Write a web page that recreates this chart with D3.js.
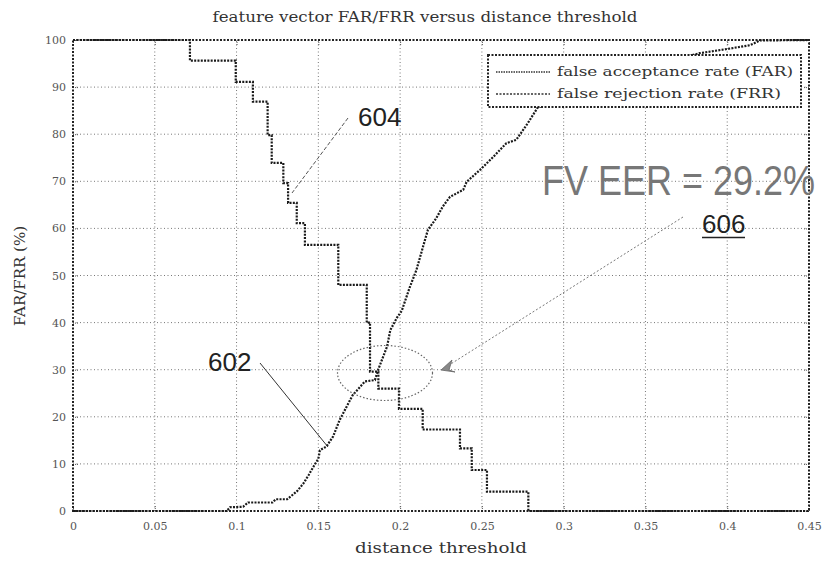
<!DOCTYPE html>
<html><head><meta charset="utf-8">
<script src="https://cdn.jsdelivr.net/npm/d3@7"></script>
<style>body{margin:0;background:#fff}svg{display:block}</style>
</head><body>
<script>
// ---- data ----
const xTicks = [0, 0.05, 0.1, 0.15, 0.2, 0.25, 0.3, 0.35, 0.4, 0.45];
const xTickLabels = ["0", "0.05", "0.1", "0.15", "0.2", "0.25", "0.3", "0.35", "0.4", "0.45"];
const yTicks = [0, 10, 20, 30, 40, 50, 60, 70, 80, 90, 100];
const yTickLabels = ["0", "10", "20", "30", "40", "50", "60", "70", "80", "90", "100"];
const farX = [0, 0.094, 0.096, 0.104, 0.107, 0.122, 0.124, 0.131, 0.137, 0.141, 0.144, 0.147, 0.150, 0.151, 0.155, 0.159, 0.163, 0.171, 0.1785, 0.1846, 0.1867, 0.190, 0.192, 0.194, 0.198, 0.201, 0.206, 0.210, 0.214, 0.217, 0.222, 0.226, 0.2305, 0.2386, 0.2407, 0.2488, 0.257, 0.265, 0.271, 0.278, 0.284, 0.30, 0.33, 0.36, 0.383, 0.402, 0.414, 0.420, 0.45];
const farY = [0, 0, 0.8, 0.9, 1.8, 1.8, 2.5, 2.5, 4.2, 5.9, 7.6, 9.4, 11.1, 12.9, 13.7, 15.8, 19.3, 24.6, 27.5, 27.8, 30.1, 33.1, 34.9, 38.4, 41, 42.5, 47.6, 51.2, 56.1, 59.7, 62.1, 64.6, 66.7, 68.2, 69.9, 72.4, 75.2, 78.1, 78.8, 82.3, 85.6, 88, 92, 95, 97.2, 98.2, 98.9, 99.9, 100];
const frrX = [0, 0.0715, 0.0715, 0.0995, 0.0995, 0.110, 0.110, 0.119, 0.119, 0.1215, 0.1215, 0.1286, 0.1286, 0.1315, 0.1315, 0.1368, 0.1368, 0.1418, 0.1418, 0.1622, 0.1622, 0.1796, 0.1796, 0.1816, 0.1816, 0.1867, 0.1867, 0.1993, 0.1993, 0.2138, 0.2138, 0.2366, 0.2366, 0.2438, 0.2438, 0.2531, 0.2531, 0.2784, 0.2784, 0.45];
const frrY = [100, 100, 95.6, 95.6, 91.1, 91.1, 86.9, 86.9, 79.8, 79.8, 73.9, 73.9, 69.6, 69.6, 65.4, 65.4, 61.1, 61.1, 56.5, 56.5, 48.0, 48.0, 40, 40, 29.6, 29.6, 26.0, 26.0, 21.7, 21.7, 17.3, 17.3, 13.3, 13.3, 8.7, 8.7, 4.1, 4.1, 0, 0];
const seriesNames = ["false acceptance rate (FAR)", "false rejection rate (FRR)"];

// ---- drawing ----
const W = 825, H = 562;
const svg = d3.select("body").append("svg").attr("width", W).attr("height", H);
const x = d3.scaleLinear().domain([0, 0.45]).range([73, 809]);
const y = d3.scaleLinear().domain([0, 100]).range([511, 40]);
const serif = "'DejaVu Serif', serif";

// grid
const grid = svg.append("g").attr("stroke", "#777").attr("stroke-width", 1).attr("stroke-dasharray", "1,2.5");
grid.selectAll(".gx").data(xTicks.slice(1, -1)).join("line")
  .attr("x1", d => x(d)).attr("x2", d => x(d)).attr("y1", y(0)).attr("y2", y(100));
grid.selectAll(".gy").data(yTicks.slice(1, -1)).join("line")
  .attr("x1", x(0)).attr("x2", x(0.45)).attr("y1", d => y(d)).attr("y2", d => y(d));

// axes (ticks inward) via d3 axes
const axB = svg.append("g").attr("transform", `translate(0,${y(0)})`)
  .call(d3.axisBottom(x).tickValues(xTicks).tickSize(-5).tickPadding(11).tickFormat((d, i) => xTickLabels[i]));
const axL = svg.append("g").attr("transform", `translate(${x(0)},0)`)
  .call(d3.axisLeft(y).tickValues(yTicks).tickSize(-5).tickPadding(7).tickFormat((d, i) => yTickLabels[i]));
const axT = svg.append("g").attr("transform", `translate(0,${y(100)})`)
  .call(d3.axisTop(x).tickValues(xTicks).tickSize(-5).tickFormat(""));
const axR = svg.append("g").attr("transform", `translate(${x(0.45)},0)`)
  .call(d3.axisRight(y).tickValues(yTicks).tickSize(-5).tickFormat(""));
[axB, axL, axT, axR].forEach(a => {
  a.select(".domain").remove();
  a.selectAll(".tick line").attr("stroke", "#555").attr("stroke-dasharray", "1,1");
  a.selectAll(".tick text").attr("fill", "#555").style("font-family", serif).style("font-size", "11px");
});

// frame
svg.append("rect").attr("x", x(0)).attr("y", y(100)).attr("width", x(0.45) - x(0)).attr("height", y(0) - y(100))
  .attr("fill", "none").attr("stroke", "#222").attr("stroke-width", 2).attr("stroke-dasharray", "2,1.5");

// curves
const line = d3.line().x(d => x(d[0])).y(d => y(d[1]));
const curveStyle = s => s.attr("fill", "none").attr("stroke", "#1a1a1a").attr("stroke-width", 2.2).attr("stroke-dasharray", "2,1.3");
svg.append("path").datum(farX.map((v, i) => [v, farY[i]])).attr("d", line).call(curveStyle);
svg.append("path").datum(frrX.map((v, i) => [v, frrY[i]])).attr("d", line).call(curveStyle);

// legend
const lg = svg.append("g");
lg.append("rect").attr("x", 488).attr("y", 55).attr("width", 313).attr("height", 52)
  .attr("fill", "#fff").attr("stroke", "#222").attr("stroke-width", 2).attr("stroke-dasharray", "2,1.5");
seriesNames.forEach((n, i) => {
  const yy = 72 + i * 22;
  lg.append("line").attr("x1", 496).attr("x2", 550).attr("y1", yy).attr("y2", yy)
    .attr("stroke", "#333").attr("stroke-width", 1.6).attr("stroke-dasharray", i === 0 ? "1.5,1" : "2,1.5");
  lg.append("text").attr("x", 557).attr("y", yy + 4).text(n)
    .attr("fill", "#333").style("font-family", serif).style("font-size", "13px")
    .attr("textLength", i === 0 ? 236 : 224).attr("lengthAdjust", "spacingAndGlyphs");
});

// titles
svg.append("text").attr("x", 425).attr("y", 22).attr("text-anchor", "middle")
  .text("feature vector FAR/FRR versus distance threshold")
  .attr("fill", "#333").style("font-family", serif).style("font-size", "14px")
  .attr("textLength", 425).attr("lengthAdjust", "spacingAndGlyphs");
svg.append("text").attr("x", 441).attr("y", 553).attr("text-anchor", "middle")
  .text("distance threshold").attr("fill", "#333").style("font-family", serif).style("font-size", "15px")
  .attr("textLength", 172).attr("lengthAdjust", "spacingAndGlyphs");
svg.append("text").attr("transform", "translate(25,276) rotate(-90)").attr("text-anchor", "middle")
  .text("FAR/FRR (%)").attr("fill", "#333").style("font-family", serif).style("font-size", "15px")
  .attr("textLength", 100).attr("lengthAdjust", "spacingAndGlyphs");

// annotations
const sans = "'Liberation Sans', Arial, sans-serif";
svg.append("line").attr("x1", 348).attr("y1", 118).attr("x2", 292).attr("y2", 193)
  .attr("stroke", "#555").attr("stroke-width", 1).attr("stroke-dasharray", "4,2");
svg.append("text").attr("x", 358).attr("y", 126).text("604").attr("fill", "#222")
  .style("font-family", sans).style("font-size", "26px");
svg.append("line").attr("x1", 260).attr("y1", 363).attr("x2", 328).attr("y2", 447)
  .attr("stroke", "#333").attr("stroke-width", 1);
svg.append("text").attr("x", 208).attr("y", 371).text("602").attr("fill", "#222")
  .style("font-family", sans).style("font-size", "26px");
svg.append("ellipse").attr("cx", 385).attr("cy", 373).attr("rx", 47.5).attr("ry", 27.5)
  .attr("fill", "none").attr("stroke", "#666").attr("stroke-width", 1.2).attr("stroke-dasharray", "1.5,2");
svg.append("line").attr("x1", 683).attr("y1", 217).attr("x2", 446).attr("y2", 367)
  .attr("stroke", "#777").attr("stroke-width", 1).attr("stroke-dasharray", "2,2");
svg.append("path").attr("d", "M441,370 L452,360 L449,370 L455,372 Z").attr("fill", "#888").attr("stroke", "#666").attr("stroke-width", 0.8);
svg.append("text").attr("x", 702).attr("y", 233).text("606").attr("fill", "#222")
  .style("font-family", sans).style("font-size", "26px");
svg.append("line").attr("x1", 702).attr("x2", 745).attr("y1", 237.5).attr("y2", 237.5).attr("stroke", "#222").attr("stroke-width", 1.5);
svg.append("text").attr("transform", "translate(542,195) scale(1,1.2)").text("FV EER = 29.2%").attr("fill", "#777")
  .style("font-family", sans).style("font-size", "36px").style("font-weight", "300");
</script>
</body></html>
